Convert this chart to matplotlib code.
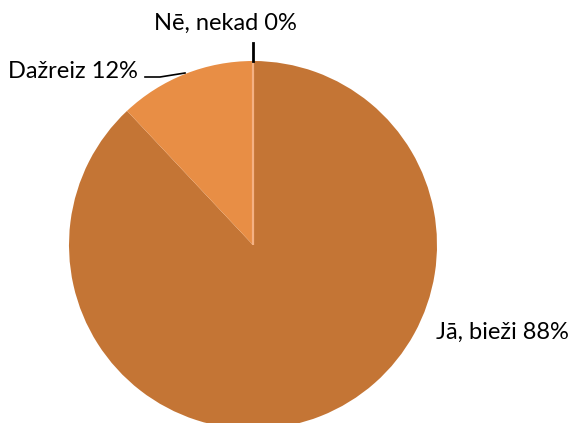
import matplotlib
matplotlib.use("Agg")
import matplotlib.pyplot as plt

# answers, clockwise from 12 o'clock
labels = ['Jā, bieži', 'Dažreiz', 'Nē, nekad']
shares = [88, 12, 0]
colors = ['#C47535', '#E88E45', '#F4B183']

plt.rcParams['font.family'] = ['Lato', 'DejaVu Sans']

W, H = 574, 423
fig = plt.figure(figsize=(W / 100, H / 100), dpi=100)
cx, cy, r = 253, 245, 184
ax = fig.add_axes([(cx - r) / W, (H - cy - r) / H, 2 * r / W, 2 * r / H])

wedges, _ = ax.pie(shares, colors=colors, startangle=90, counterclock=False,
                   radius=1, wedgeprops=dict(linewidth=0))
wedges[2].set_edgecolor(colors[2])
wedges[2].set_linewidth(1.6)
ax.set_xlim(-1, 1)
ax.set_ylim(-1, 1)
ax.set_aspect('equal')
ax.axis('off')

def px(x, y):
    return (x - cx) / r, (cy - y) / r

# labels
fs = 17
ax.text(*px(436, 332), f'{labels[0]} {shares[0]}%', fontsize=fs,
        ha='left', va='center', clip_on=False)
ax.text(*px(138, 71), f'{labels[1]} {shares[1]}%', fontsize=fs,
        ha='right', va='center', clip_on=False)
ax.text(*px(225, 23), f'{labels[2]} {shares[2]}%', fontsize=fs,
        ha='center', va='center', clip_on=False)

# leader lines
xs, ys = zip(px(145, 77), px(160, 77), px(185, 73))
ax.plot(xs, ys, color='black', lw=1.2, clip_on=False)
xs, ys = zip(px(253, 43), px(253, 61))
ax.plot(xs, ys, color='black', lw=2, clip_on=False)

fig.savefig('out.png', dpi=100)
